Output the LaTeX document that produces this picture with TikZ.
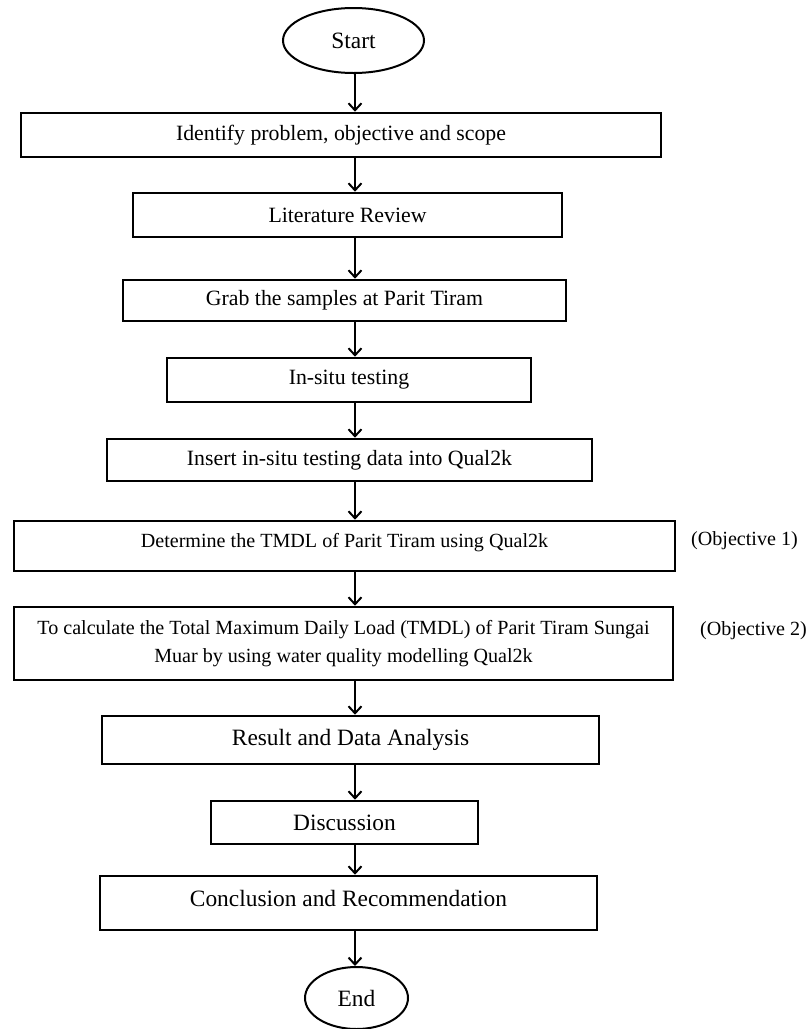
\documentclass[tikz,border=0pt]{standalone}
\usepackage{fontspec}
\setmainfont{Liberation Serif}
\usetikzlibrary{shapes.geometric, arrows.meta}

\begin{document}
\begin{tikzpicture}[x=1pt, y=-1pt,
  stepbox/.style={draw, rectangle, line width=2.6pt, inner sep=0pt, align=center, font=\fontsize{21.8}{26}\selectfont},
  smallbox/.style={stepbox, font=\fontsize{20.1}{28}\selectfont},
  bigbox/.style={stepbox, font=\fontsize{23.4}{28}\selectfont},
  terminal/.style={draw, ellipse, line width=2pt, inner sep=0pt, font=\fontsize{23.4}{28}\selectfont},
  objlabel/.style={anchor=west, inner sep=0pt, font=\fontsize{20.1}{24}\selectfont},
  flow/.style={-{Straight Barb[length=7pt, width=13pt]}, line width=2pt}]
\useasboundingbox (0,0) rectangle (808,1029);
\coordinate (spine) at (355,0);
\node[terminal, minimum width=141pt, minimum height=65pt] (start) at (353.5,40.5) {Start};
\node[stepbox, minimum width=640pt, minimum height=44pt] (ident) at (341,135) {Identify problem, objective and scope};
\node[stepbox, minimum width=429pt, minimum height=44pt] (lit) at (347.5,215) {Literature Review};
\node[stepbox, minimum width=443pt, minimum height=41pt] (grab) at (344.5,300.5) {Grab the samples at Parit Tiram};
\node[stepbox, minimum width=364pt, minimum height=44pt] (insitu) at (349,380) {In-situ testing};
\node[stepbox, minimum width=485pt, minimum height=42pt] (insert) at (349.5,460) {Insert in-situ testing data into Qual2k};
\node[smallbox, minimum width=661pt, minimum height=50pt, text height=14pt, text depth=10.8pt] (tmdl) at (344.5,546) {Determine the TMDL of Parit Tiram using Qual2k};
\node[smallbox, minimum width=659pt, minimum height=73pt] (calc) at (343.5,643.5) {To calculate the Total Maximum Daily Load (TMDL) of Parit Tiram Sungai\\Muar by using water quality modelling Qual2k};
\node[bigbox, minimum width=497pt, minimum height=48pt] (result) at (350.5,740) {Result and Data Analysis};
\node[bigbox, minimum width=267pt, minimum height=43pt] (disc) at (344.5,822.5) {Discussion};
\node[bigbox, minimum width=497pt, minimum height=54pt, text height=16pt, text depth=8.6pt] (concl) at (348.5,903) {Conclusion and Recommendation};
\node[terminal, minimum width=103pt, minimum height=62pt] (end) at (356.5,998) {End};
\node[objlabel] (obj1) at (691,541) {(Objective 1)};
\node[objlabel] (obj2) at (700,631) {(Objective 2)};
\foreach \a/\b in {start/ident, ident/lit, lit/grab, grab/insitu, insitu/insert, insert/tmdl, tmdl/calc, calc/result, result/disc, disc/concl, concl/end}
  \draw[flow] (\a.south -| spine) -- (\b.north -| spine);
\end{tikzpicture}
\end{document}
